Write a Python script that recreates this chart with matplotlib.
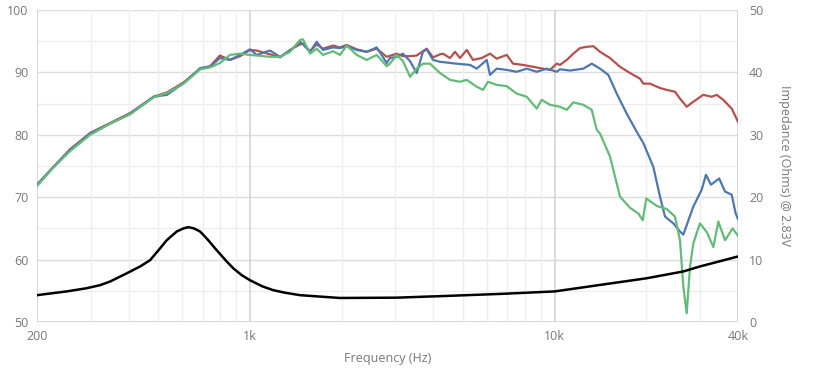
import matplotlib
matplotlib.use("Agg")
import matplotlib.pyplot as plt
from matplotlib.ticker import FixedLocator, NullFormatter

# ---------------- data ----------------
red_freq = [200, 227, 257, 299, 348, 405, 483, 534, 606, 687, 740, 797, 860, 928, 1000,
            1052, 1164, 1255, 1354, 1460, 1493, 1575, 1656, 1737, 1874, 1975, 2078, 2241,
            2417, 2607, 2812, 3032, 3180, 3354, 3527, 3698, 3804, 3990, 4207, 4303, 4538,
            4712, 4893, 5147, 5399, 5766, 6138, 6456, 6964, 7305, 7876, 8496, 9162, 9662,
            10160, 10416, 10960, 11522, 12120, 12748, 13402, 14100, 15206, 16396, 17684,
            19070, 19550, 20560, 22180, 23340, 24840, 25800, 27140, 28540, 30760, 32780,
            34060, 35780, 38140, 40000]
red_spl = [72.0, 74.9, 77.7, 80.3, 81.9, 83.5, 86.1, 86.8, 88.4, 90.6, 91.0, 92.7, 92.0, 92.6, 93.6,
           93.5, 92.9, 92.4, 93.6, 94.5, 94.6, 93.4, 94.5, 93.8, 94.3, 94.0, 94.4, 93.7,
           93.3, 93.8, 92.5, 93.0, 92.6, 92.6, 92.7, 93.4, 93.8, 92.4, 92.9, 93.0, 92.3,
           93.3, 92.3, 93.6, 92.0, 92.3, 93.0, 92.2, 92.8, 91.4, 91.2, 90.9, 90.6, 90.4,
           91.4, 91.2, 92.0, 93.0, 93.9, 94.1, 94.2, 93.3, 92.3, 90.9, 89.9,
           89.0, 88.2, 88.2, 87.5, 87.2, 86.9, 85.8, 84.5, 85.3, 86.4, 86.1,
           86.4, 85.6, 84.2, 82.1]

blue_freq = [200, 227, 257, 299, 348, 405, 483, 534, 606, 687, 740, 797, 860, 928, 1000,
             1052, 1164, 1255, 1354, 1460, 1493, 1575, 1656, 1737, 1874, 1975, 2078, 2241,
             2417, 2607, 2812, 2882, 3032, 3180, 3354, 3527, 3698, 3804, 3990, 4207, 4760,
             5279, 5551, 5988, 6138, 6456, 6964, 7512, 8100, 8738, 9422, 10160, 10416, 11238,
             12426, 13242, 14100, 15012, 15994, 17248, 18598, 19550, 21080, 22180, 23040,
             24540, 25800, 26460, 28540, 30400, 31400, 32600, 34700, 36260, 38140, 39300, 40000]
blue_spl = [72.0, 74.9, 77.6, 80.2, 81.8, 83.4, 86.1, 86.4, 88.3, 90.7, 90.9, 92.3, 92.0, 92.8, 93.7,
            92.8, 93.5, 92.5, 93.5, 94.9, 94.5, 93.3, 94.9, 93.6, 94.0, 93.9, 94.2, 93.6,
            93.3, 94.0, 91.5, 92.3, 92.5, 93.0, 91.8, 89.9, 93.3, 93.7, 92.0, 91.7, 91.4,
            91.2, 90.6, 92.0, 89.6, 90.6, 90.4, 90.1, 90.6, 90.1, 90.6, 90.1, 90.5, 90.3,
            90.6, 91.4, 90.6, 89.6, 86.6, 83.4, 80.5, 78.7, 74.9, 70.1, 66.9,
            65.8, 64.5, 64.0, 68.5, 71.2, 73.6, 72.0, 73.0, 70.9, 70.4, 67.4, 66.5]

green_freq = [200, 227, 257, 299, 348, 405, 483, 534, 606, 687, 740, 797, 860, 928, 1000,
              1052, 1164, 1255, 1354, 1460, 1493, 1575, 1656, 1737, 1874, 1975, 2078, 2241,
              2417, 2607, 2812, 2882, 3032, 3180, 3354, 3527, 3698, 3900, 4207, 4538, 4893,
              5147, 5551, 5823, 6045, 6456, 6964, 7512, 8100, 8738, 9074, 9662, 10416, 10960,
              11522, 12426, 13242, 13752, 14100, 15206, 16396, 17684, 18830, 19464, 20000,
              21640, 23340, 24840, 25800, 26460, 27140, 27840, 28540, 30000, 31600, 33200,
              34480, 36260, 38400, 40000]
green_spl = [71.8, 74.8, 77.4, 80.0, 81.8, 83.3, 86.0, 86.7, 88.2, 90.5, 90.8, 91.5, 92.8, 93.0, 92.8,
             92.7, 92.5, 92.5, 93.3, 95.2, 95.3, 93.0, 93.8, 92.8, 93.4, 92.8, 94.3, 92.8,
             92.0, 92.8, 91.0, 91.4, 92.8, 91.8, 89.3, 90.6, 91.4, 91.4, 89.9, 88.8, 88.5,
             88.8, 87.7, 87.2, 88.5, 88.0, 87.8, 86.6, 86.1, 84.2, 85.6, 84.8, 84.5, 84.0,
             85.2, 84.8, 84.0, 80.8, 80.2, 76.5, 70.1, 68.3, 67.4, 66.3, 69.8,
             68.6, 68.1, 66.9, 63.1, 55.7, 51.4, 58.9, 62.6, 65.8, 64.4, 62.0,
             66.1, 63.1, 65.0, 63.8]

imp_freq = [200, 250, 290, 322, 348, 394, 436, 470, 507, 533, 575, 605, 628, 655, 686, 721,
            778, 839, 882, 940, 1000, 1100, 1193, 1300, 1460, 1975, 3032, 4538, 6621, 10000,
            20000, 26460, 30000, 40000]
imp_ohm = [4.3, 4.9, 5.4, 5.9, 6.5, 7.8, 8.9, 9.9, 11.8, 13.1, 14.5, 15.0, 15.2, 15.0, 14.5, 13.4,
           11.5, 9.7, 8.6, 7.5, 6.7, 5.7, 5.1, 4.7, 4.3, 3.85, 3.9, 4.2, 4.5, 4.9,
           7.0, 8.1, 8.9, 10.5]

x_tick_vals = [200, 1000, 10000, 40000]
x_tick_labels = ["200", "1k", "10k", "40k"]
x_minor_vals = [300, 400, 500, 600, 700, 800, 900, 2000, 3000, 4000, 5000, 6000, 7000,
                8000, 9000, 20000, 30000]
y_left_ticks = [50, 60, 70, 80, 90, 100]
y_right_ticks = [0, 10, 20, 30, 40, 50]

# ---------------- figure ----------------
plt.rcParams['font.family'] = ['Open Sans', 'DejaVu Sans']
fig = plt.figure(figsize=(8.19, 3.79), dpi=100)
ax = fig.add_axes([37/819, 1-322/379, (738-37)/819, (322-10)/379])
ax2 = ax.twinx()

tick_col = "#777777"
ax.set_xscale("log")
ax.set_xlim(200, 40000)
ax.set_ylim(50, 100)
ax2.set_ylim(0, 50)

# grid
for v in range(55, 100, 10):
    ax.axhline(v, color="#eeeeee", lw=1.0, zorder=0)
for v in range(60, 101, 10):
    ax.axhline(v, color="#dcdcdc", lw=1.0, zorder=0)
for v in x_minor_vals:
    ax.axvline(v, color="#eeeeee", lw=1.0, zorder=0)
for v in [1000, 10000]:
    ax.axvline(v, color="#d4d4d4", lw=1.2, zorder=0)

ax.plot(red_freq, red_spl, color="#b5504d", lw=1.6, zorder=3)
ax.plot(blue_freq, blue_spl, color="#4e78ad", lw=1.6, zorder=4)
ax.plot(green_freq, green_spl, color="#62bb78", lw=1.6, zorder=5)
ax2.plot(imp_freq, imp_ohm, color="#000000", lw=1.8, zorder=6)

ax.xaxis.set_major_locator(FixedLocator(x_tick_vals))
ax.set_xticklabels(x_tick_labels)
ax.xaxis.set_minor_locator(FixedLocator([]))
ax.xaxis.set_minor_formatter(NullFormatter())
ax.set_yticks(y_left_ticks)
ax2.set_yticks(y_right_ticks)

for a in (ax, ax2):
    a.tick_params(axis="both", which="both", length=0, labelsize=9, labelcolor=tick_col)
    for s in a.spines.values():
        s.set_visible(False)
ax.tick_params(axis="x", pad=6)
ax.tick_params(axis="y", pad=6)
ax2.tick_params(axis="y", pad=8)

# axis frame lines
ax.axvline(200, color="#d0d0d0", lw=1.2, zorder=1)
ax.axvline(40000, color="#d0d0d0", lw=1.2, zorder=1)
ax.axhline(50, color="#d0d0d0", lw=1.2, zorder=1)

ax.set_xlabel("Frequency (Hz)", fontsize=9, color=tick_col, labelpad=6)
ax2.set_ylabel("Impedance (Ohms) @ 2.83V", fontsize=9, color=tick_col, rotation=270,
               labelpad=20)

fig.savefig("out.png", dpi=100)
